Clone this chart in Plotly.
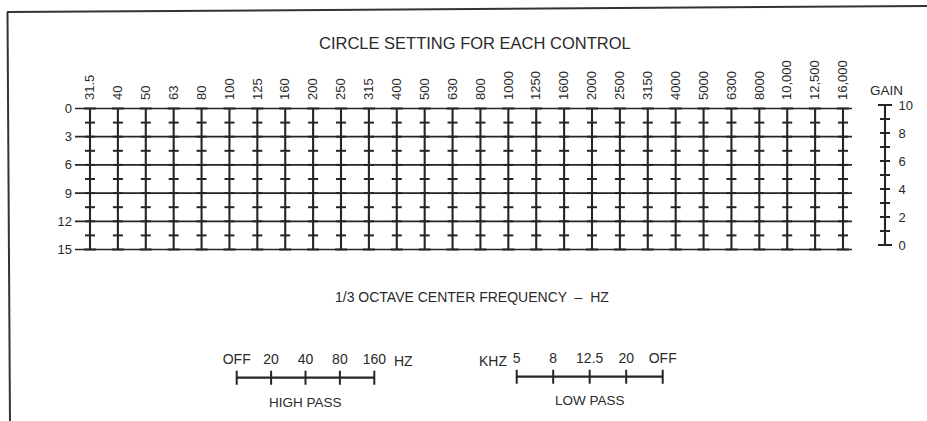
import plotly.graph_objects as go

# ---------------- data ----------------
freq_labels = ["31.5", "40", "50", "63", "80", "100", "125", "160", "200", "250",
               "315", "400", "500", "630", "800", "1000", "1250", "1600", "2000",
               "2500", "3150", "4000", "5000", "6300", "8000", "10,000", "12,500",
               "16,000"]
setting_rows = [0, 3, 6, 9, 12, 15]
setting_ticks = [0, 1.5, 3, 4.5, 6, 7.5, 9, 10.5, 12, 13.5, 15]
gain_ticks = [0, 1, 2, 3, 4, 5, 6, 7, 8, 9, 10]
gain_labels = [0, 2, 4, 6, 8, 10]
highpass_labels = ["OFF", "20", "40", "80", "160"]
lowpass_labels = ["5", "8", "12.5", "20", "OFF"]

# ---------------- layout helpers (pixels -> paper) ----------------
W, H = 927, 421
INK = "#252525"
TXT = "#2a2a2a"
FONT = "Liberation Sans, Arial, Helvetica, sans-serif"


def xdom(a, b):
    return [a / W, b / W]


def ydom(top, bottom):
    return [1 - bottom / H, 1 - top / H]


def py(p):
    return 1 - p / H


def px(p):
    return p / W


n = len(freq_labels)
col0, colN = 90.0, 843.0
sp = (colN - col0) / (n - 1)
x_lo, x_hi = (75 - col0) / sp, (852 - col0) / sp
row0_px, row15_px = 108.5, 249.5
k = (row15_px - row0_px) / (max(setting_rows) - min(setting_rows))
y_top_px, y_bot_px = 101, 257
y_rng = [(y_bot_px - row0_px) / k, (y_top_px - row0_px) / k]

fig = go.Figure()

# ---------------- main grid ----------------
hx, hy = [], []
for r in setting_rows:
    hx += [x_lo, x_hi, None]
    hy += [r, r, None]
fig.add_trace(go.Scatter(x=hx, y=hy, mode="lines", line=dict(color=INK, width=1.7),
                         hoverinfo="skip", showlegend=False, xaxis="x", yaxis="y"))

vx, vy = [], []
for i in range(n):
    vx += [i, i, None]
    vy += [min(setting_rows), max(setting_rows), None]
fig.add_trace(go.Scatter(x=vx, y=vy, mode="lines", line=dict(color=INK, width=2.1),
                         hoverinfo="skip", showlegend=False, xaxis="x", yaxis="y"))

tx, ty = [], []
for i in range(n):
    for t in setting_ticks:
        half = (6 if t in (setting_ticks[0], setting_ticks[-1]) else 5) / sp
        tx += [i - half, i + half, None]
        ty += [t, t, None]
fig.add_trace(go.Scatter(x=tx, y=ty, mode="lines", line=dict(color=INK, width=2),
                         hoverinfo="skip", showlegend=False, xaxis="x", yaxis="y"))

# ---------------- gain scale ----------------
fig.add_trace(go.Scatter(x=[0, 0], y=[min(gain_ticks), max(gain_ticks)], mode="lines",
                         line=dict(color=INK, width=2.1), hoverinfo="skip",
                         showlegend=False, xaxis="x2", yaxis="y2"))
gtx, gty = [], []
for g in gain_ticks:
    half = (7 if g in (gain_ticks[0], gain_ticks[-1]) else 5) / 7.0
    gtx += [-half, half, None]
    gty += [g, g, None]
fig.add_trace(go.Scatter(x=gtx, y=gty, mode="lines", line=dict(color=INK, width=2),
                         hoverinfo="skip", showlegend=False, xaxis="x2", yaxis="y2"))


# ---------------- high / low pass scales ----------------
def pass_scale(labels, xa, ya):
    m = len(labels)
    fig.add_trace(go.Scatter(x=[0, m - 1], y=[0, 0], mode="lines",
                             line=dict(color=INK, width=2.2), hoverinfo="skip",
                             showlegend=False, xaxis=xa, yaxis=ya))
    sx, sy = [], []
    for i in range(m):
        sx += [i, i, None]
        sy += [-0.7, 0.7, None]
    fig.add_trace(go.Scatter(x=sx, y=sy, mode="lines", line=dict(color=INK, width=2),
                             hoverinfo="skip", showlegend=False, xaxis=xa, yaxis=ya))


pass_scale(highpass_labels, "x3", "y3")
pass_scale(lowpass_labels, "x4", "y4")

hp0, hp_sp = 236.7, 34.4
lp0, lp_sp = 516.7, 36.5

hidden = dict(showgrid=False, zeroline=False, showline=False, showticklabels=False,
              ticks="", fixedrange=True)

fig.update_layout(
    width=W, height=H,
    margin=dict(l=0, r=0, t=0, b=0, autoexpand=False),
    paper_bgcolor="white", plot_bgcolor="rgba(0,0,0,0)",
    font=dict(family=FONT, color=TXT),
    hovermode=False,
    xaxis=dict(domain=xdom(75, 852), range=[x_lo, x_hi], anchor="y", side="top",
               tickmode="array", tickvals=list(range(n)), ticktext=freq_labels,
               tickangle=-90, ticks="", showgrid=False, zeroline=False, showline=False,
               tickfont=dict(size=13), ticklabelstandoff=0, fixedrange=True,
               automargin=False),
    yaxis=dict(domain=ydom(y_top_px, y_bot_px), range=y_rng, anchor="x",
               tickmode="array", tickvals=setting_rows, ticks="", showgrid=False,
               zeroline=False, showline=False, tickfont=dict(size=13),
               ticklabelstandoff=2, fixedrange=True, automargin=False),
    xaxis2=dict(domain=xdom(874.5, 895.5), range=[-1.5, 1.5], anchor="y2", **hidden),
    yaxis2=dict(domain=ydom(98, 252), range=[(245 - 252) / 14, (245 - 98) / 14],
                anchor="x2", side="right", tickmode="array", tickvals=gain_labels,
                ticks="", showgrid=False, zeroline=False, showline=False,
                tickfont=dict(size=13), ticklabelstandoff=2, fixedrange=True,
                automargin=False),
    xaxis3=dict(domain=xdom(222, 425), range=[(222 - hp0) / hp_sp, (425 - hp0) / hp_sp],
                anchor="y3", side="top", tickmode="array",
                tickvals=list(range(len(highpass_labels))), ticktext=highpass_labels,
                ticks="", showgrid=False, zeroline=False, showline=False,
                tickfont=dict(size=14), ticklabelstandoff=0, fixedrange=True,
                automargin=False),
    yaxis3=dict(domain=ydom(367.7, 387.7), range=[-1, 1], anchor="x3", **hidden),
    xaxis4=dict(domain=xdom(470, 675), range=[(470 - lp0) / lp_sp, (675 - lp0) / lp_sp],
                anchor="y4", side="top", tickmode="array",
                tickvals=list(range(len(lowpass_labels))), ticktext=lowpass_labels,
                ticks="", showgrid=False, zeroline=False, showline=False,
                tickfont=dict(size=14), ticklabelstandoff=0, fixedrange=True,
                automargin=False),
    yaxis4=dict(domain=ydom(366.7, 386.7), range=[-1, 1], anchor="x4", **hidden),
)

annots = [
    dict(text="CIRCLE SETTING FOR EACH CONTROL", x=px(475), y=py(43), size=16.5),
    dict(text="1/3 OCTAVE CENTER FREQUENCY  \u2013  HZ", x=px(472), y=py(297), size=14),
    dict(text="GAIN", x=px(886), y=py(90), size=13.5),
]
for a in annots:
    fig.add_annotation(text=a["text"], x=a["x"], y=a["y"], xref="paper", yref="paper",
                       showarrow=False, xanchor="center", yanchor="middle",
                       font=dict(size=a["size"], family=FONT, color=TXT))

fig.add_annotation(text="HZ", x=4 + (403 - 374.3) / hp_sp, y=py(361), xref="x3",
                   yref="paper", showarrow=False, xanchor="center", yanchor="middle",
                   font=dict(size=14, family=FONT, color=TXT))
fig.add_annotation(text="HIGH PASS", x=2, y=py(402), xref="x3", yref="paper",
                   showarrow=False, xanchor="center", yanchor="middle",
                   font=dict(size=13.5, family=FONT, color=TXT))
fig.add_annotation(text="KHZ", x=(509 - lp0) / lp_sp, y=py(361), xref="x4",
                   yref="paper", showarrow=False, xanchor="right", yanchor="middle",
                   font=dict(size=14, family=FONT, color=TXT))
fig.add_annotation(text="LOW PASS", x=2, y=py(400), xref="x4", yref="paper",
                   showarrow=False, xanchor="center", yanchor="middle",
                   font=dict(size=13.5, family=FONT, color=TXT))

# frame (scanned page border, open at right and bottom)
fig.add_shape(type="line", xref="paper", yref="paper", x0=px(7), y0=py(12),
              x1=px(930), y1=py(6), line=dict(color="#333333", width=2))
fig.add_shape(type="line", xref="paper", yref="paper", x0=px(7.5), y0=py(12),
              x1=px(10), y1=py(425), line=dict(color="#333333", width=2))

fig.write_html("out.html",
               config={"displayModeBar": False, "staticPlot": True},
               post_script="document.body.style.margin='0px';"
                           "document.body.style.overflow='hidden';")
